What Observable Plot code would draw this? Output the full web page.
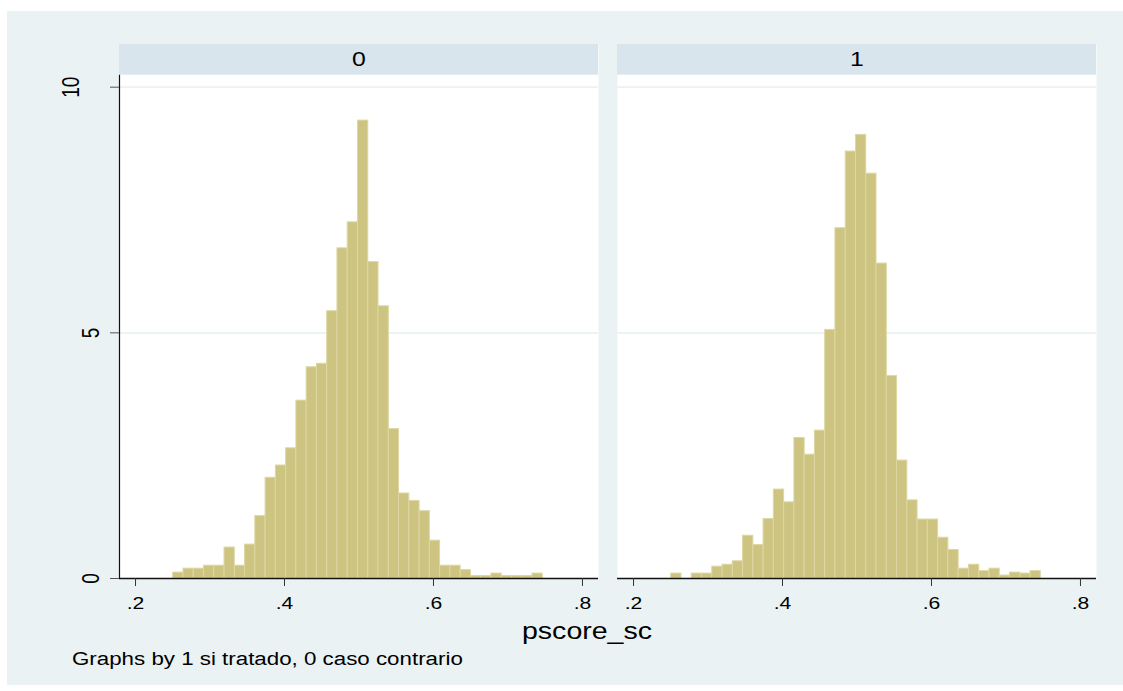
<!DOCTYPE html>
<html>
<head>
<meta charset="utf-8">
<script src="https://cdn.jsdelivr.net/npm/d3@7"></script>
<script src="https://cdn.jsdelivr.net/npm/@observablehq/plot@0.6"></script>
<style>
  html, body { margin: 0; padding: 0; background: #ffffff; }
  body { width: 1123px; height: 691px; position: relative; overflow: hidden;
         font-family: "Liberation Sans", Arial, Helvetica, sans-serif; }
  #bg { position: absolute; left: 7px; top: 11px; width: 1116px; height: 674px; background: #eaf2f3; }
  #chart { position: absolute; left: 0; top: 0; }
  #xtitle { position: absolute; left: 487px; top: 620px; width: 200px; text-align: center;
            font-size: 23px; line-height: 23px; color: #000; transform: scaleX(1.24); }
  #caption { position: absolute; left: 72px; top: 650px; font-size: 18px; line-height: 18px;
             color: #000; white-space: nowrap; transform-origin: left center; transform: scaleX(1.24); }
</style>
</head>
<body>
<div id="bg"></div>
<div id="chart"></div>
<div id="xtitle"></div>
<div id="caption"></div>
<script>
// ---------------- data ----------------
const groups = ["0", "1"];
const stripLabels = ["0", "1"];
const binStart = 0.2506;
const binWidth = 0.01378;
const density0 = [0.12, 0.20, 0.20, 0.26, 0.26, 0.63, 0.26, 0.69, 1.27, 2.05, 2.30, 2.65,
                  3.62, 4.30, 4.37, 5.44, 6.72, 7.25, 9.32, 6.44, 5.54, 3.04, 1.73, 1.58,
                  1.37, 0.77, 0.26, 0.26, 0.17, 0.05, 0.05, 0.10, 0.05, 0.05, 0.05, 0.10];
const density1 = [0.10, 0.00, 0.10, 0.10, 0.24, 0.28, 0.35, 0.87, 0.68, 1.21, 1.81, 1.55,
                  2.86, 2.52, 3.01, 5.06, 7.13, 8.69, 9.03, 8.24, 6.41, 4.12, 2.40, 1.59,
                  1.20, 1.20, 0.83, 0.58, 0.20, 0.28, 0.15, 0.20, 0.06, 0.12, 0.10, 0.15];
const xTicks = [0.2, 0.4, 0.6, 0.8];
const xTickLabels = [".2", ".4", ".6", ".8"];
const yTicks = [0, 5, 10];
const yTickLabels = ["0", "5", "10"];
const xTitle = "pscore_sc";
const caption = "Graphs by 1 si tratado, 0 caso contrario";

// ---------------- layout ----------------
const FONT = "'Liberation Sans', Arial, Helvetica, sans-serif";
const STRETCH = 1.24;
const W = 1123, H = 620, mL = 119, mR = 26, mT = 44, mB = 42;
const xDomain = [0.1785, 0.8215];
const gap = 19;
const range = W - mL - mR;
const pInner = gap / ((range + gap) / 2);
const bw = (range - gap) / 2;
const kX = bw / (xDomain[1] - xDomain[0]);
const y10px = 86.7;
const kY = (H - mB - y10px) / 10;
const yTop = (H - mB - mT) / kY;
const stripBottom = (H - mB - 74.7) / kY;
const stripMid = (H - mB - 59) / kY;

const series = [density0, density1];
const bars = [];
groups.forEach((g, gi) => {
  series[gi].forEach((v, i) => {
    if (v > 0) bars.push({g, x1: binStart + i * binWidth, x2: binStart + (i + 1) * binWidth, v});
  });
});
const yLabelRows = yTicks.map((v, i) => ({
  g: groups[0], v, t: yTickLabels[i],
  x: xDomain[0] - (yTickLabels[i].length > 1 ? 48.5 : 28) / kX
}));
const stripRows = groups.map((g, i) => ({g, t: stripLabels[i]}));

const chart = Plot.plot({
  width: W, height: H,
  marginLeft: mL, marginRight: mR, marginTop: mT, marginBottom: mB,
  style: {background: "transparent", fontFamily: FONT, overflow: "visible", color: "#000"},
  fx: {domain: groups, paddingInner: pInner, paddingOuter: 0, axis: null, label: null},
  x: {domain: xDomain},
  y: {domain: [0, yTop]},
  marks: [
    Plot.frame({fill: "white", stroke: "none"}),
    Plot.rect([0], {x1: () => xDomain[0], x2: () => xDomain[1], y1: () => stripBottom, y2: () => yTop, fill: "#d9e5ec"}),
    Plot.ruleY(yTicks.filter(v => v > 0), {stroke: "#eaf2f3", strokeWidth: 1.8}),
    Plot.rect(bars, {fx: "g", x1: "x1", x2: "x2", y1: () => 0, y2: "v",
                     fill: "#ccc480", stroke: "#ddd7a2", strokeWidth: 1, inset: 0}),
    Plot.ruleY([0], {stroke: "#111", strokeWidth: 1.3}),
    Plot.ruleX([{g: groups[0]}], {fx: "g", x: () => xDomain[0], y1: () => 0, y2: () => stripBottom, stroke: "#111", strokeWidth: 1.2}),
    Plot.axisX(xTicks, {tickSize: 8, tickPadding: 10, fontSize: 17, stroke: "#333",
                        tickFormat: d => xTickLabels[xTicks.indexOf(d)], label: null}),
    Plot.axisY(yTicks, {tickSize: 9, tickFormat: () => "", stroke: "#555", label: null}),
    Plot.text(yLabelRows, {fx: "g", x: "x", y: "v", text: "t", rotate: -90, fontSize: 19 * STRETCH,
                           textAnchor: "middle", lineAnchor: "middle", fill: "#000"}),
    Plot.text(stripRows, {fx: "g", x: () => (xDomain[0] + xDomain[1]) / 2, y: () => stripMid, text: "t",
                          fontSize: 20, textAnchor: "middle", lineAnchor: "middle", fill: "#000"})
  ]
});
document.getElementById("chart").appendChild(chart);
document.getElementById("xtitle").textContent = xTitle;
document.getElementById("caption").textContent = caption;

// emulate the horizontally stretched text of the original export
chart.querySelectorAll("text").forEach(t => {
  const L = t.getComputedTextLength();
  if (!L) return;
  const rotated = (t.getAttribute("transform") || "").includes("rotate");
  t.setAttribute("textLength", rotated ? L / STRETCH : L * STRETCH);
  t.setAttribute("lengthAdjust", "spacingAndGlyphs");
});
</script>
</body>
</html>
